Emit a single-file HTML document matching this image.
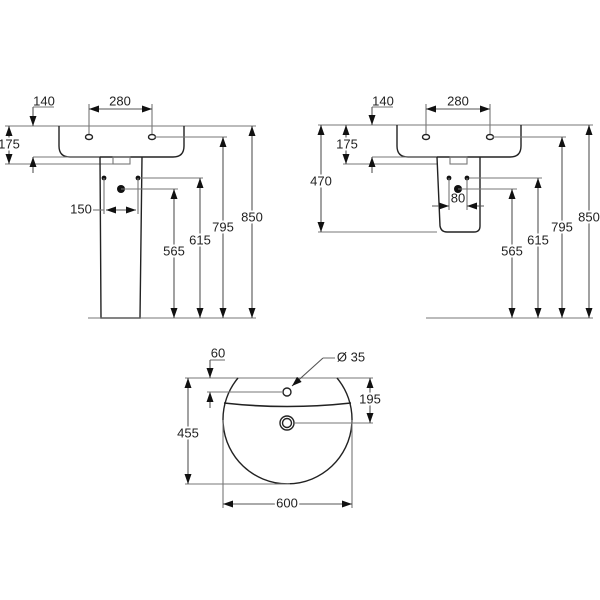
<!DOCTYPE html>
<html><head><meta charset="utf-8"><style>
html,body{margin:0;padding:0;background:#fff}
svg{display:block}
text{font-family:"Liberation Sans",Arial,sans-serif;font-size:13px;fill:#222;text-anchor:middle;dominant-baseline:middle}
.lb{stroke:#fff;stroke-width:4;paint-order:stroke}
.o{stroke:#222;stroke-width:1.4;fill:none}
.d{stroke:#777;stroke-width:1.1;fill:none}
.a{stroke:#555;stroke-width:1.1;fill:none;marker-start:url(#m);marker-end:url(#m)}
.e{stroke:#555;stroke-width:1.1;fill:none;marker-end:url(#m)}
</style></head><body>
<svg width="600" height="600" viewBox="0 0 600 600" xmlns="http://www.w3.org/2000/svg">
<defs>
<marker id="m" viewBox="0 0 10 6" refX="10" refY="3" markerWidth="10" markerHeight="7" markerUnits="userSpaceOnUse" orient="auto-start-reverse" preserveAspectRatio="none">
<path d="M0,0 L10,3 L0,6 z" fill="#111"/>
</marker>
</defs>

<!-- LEFT DRAWING -->
<line class="d" x1="5" y1="126" x2="256" y2="126"/>
<path class="o" d="M59,126 V146 Q59,157 70,157 H173 Q184,157 184,146 V126"/>
<line class="d" x1="5" y1="164" x2="130" y2="164"/>
<line class="d" x1="33" y1="157" x2="100" y2="157"/>
<path class="o" d="M100,157 L101,318 H140 L142,157"/>
<rect x="113" y="157" width="17" height="7" class="d"/>
<ellipse cx="89" cy="137" rx="3.5" ry="2.5" class="o" stroke-width="0.8"/>
<ellipse cx="152" cy="137" rx="3.5" ry="2.5" class="o" stroke-width="0.8"/>
<circle cx="104" cy="178" r="2.4" fill="#111"/>
<circle cx="138" cy="178" r="2.4" fill="#111"/>
<circle cx="121" cy="189" r="4" fill="#111"/>
<line class="d" x1="89" y1="104" x2="89" y2="134"/>
<line class="d" x1="152" y1="104" x2="152" y2="134"/>
<line class="a" x1="89" y1="109" x2="152" y2="109"/>
<text x="120" y="102">280</text>
<line class="d" x1="33" y1="107" x2="54" y2="107"/>
<text x="44" y="102">140</text>
<line class="e" x1="33" y1="107" x2="33" y2="126"/>
<line class="e" x1="33" y1="173" x2="33" y2="157"/>
<line class="a" x1="9" y1="126" x2="9" y2="164"/>
<text x="9" y="145" class="lb">175</text>
<line class="d" x1="104" y1="178" x2="104" y2="214"/>
<line class="d" x1="138" y1="178" x2="138" y2="214"/>
<line class="d" x1="93" y1="210" x2="104" y2="210"/>
<line class="a" x1="106" y1="210" x2="136" y2="210"/>
<text x="81" y="210">150</text>
<line class="d" x1="121" y1="189" x2="178" y2="189"/>
<line class="d" x1="140" y1="178" x2="203" y2="178"/>
<line class="d" x1="155" y1="137" x2="227" y2="137"/>
<line class="d" x1="88" y1="318" x2="256" y2="318"/>
<line class="a" x1="174" y1="189" x2="174" y2="318"/>
<line class="a" x1="200" y1="178" x2="200" y2="318"/>
<line class="a" x1="223" y1="137" x2="223" y2="318"/>
<line class="a" x1="252" y1="126" x2="252" y2="318"/>
<text x="174" y="252" class="lb">565</text>
<text x="200" y="241" class="lb">615</text>
<text x="223" y="228" class="lb">795</text>
<text x="252" y="218" class="lb">850</text>

<!-- RIGHT DRAWING -->
<line class="d" x1="318" y1="125" x2="593" y2="125"/>
<path class="o" d="M397,125 V146 Q397,157 408,157 H510 Q521,157 521,146 V125"/>
<line class="d" x1="343" y1="164" x2="437" y2="164"/>
<line class="d" x1="372" y1="157" x2="437" y2="157"/>
<path class="o" d="M437,157 L440,226 Q441,232 447,232 H474 Q480,232 480,226 V157"/>
<line class="d" x1="318" y1="232" x2="437" y2="232"/>
<rect x="450" y="157" width="17" height="7" class="d"/>
<ellipse cx="426" cy="137" rx="3.5" ry="2.5" class="o" stroke-width="0.8"/>
<ellipse cx="490" cy="137" rx="3.5" ry="2.5" class="o" stroke-width="0.8"/>
<circle cx="449" cy="178" r="2.4" fill="#111"/>
<circle cx="467" cy="178" r="2.4" fill="#111"/>
<circle cx="458" cy="189" r="4" fill="#111"/>
<line class="d" x1="426" y1="104" x2="426" y2="134"/>
<line class="d" x1="490" y1="104" x2="490" y2="134"/>
<line class="a" x1="426" y1="109" x2="490" y2="109"/>
<text x="458" y="102">280</text>
<line class="d" x1="372" y1="107" x2="393" y2="107"/>
<text x="383" y="102">140</text>
<line class="e" x1="372" y1="107" x2="372" y2="125"/>
<line class="e" x1="372" y1="173" x2="372" y2="157"/>
<line class="a" x1="346" y1="125" x2="346" y2="164"/>
<text x="347" y="145" class="lb">175</text>
<line class="a" x1="321" y1="125" x2="321" y2="232"/>
<text x="321" y="182" class="lb">470</text>
<line class="d" x1="449" y1="178" x2="449" y2="210"/>
<line class="d" x1="467" y1="178" x2="467" y2="210"/>
<line class="e" x1="432" y1="206" x2="449" y2="206"/>
<line class="e" x1="484" y1="206" x2="467" y2="206"/>
<text x="458" y="199">80</text>
<line class="d" x1="458" y1="189" x2="517" y2="189"/>
<line class="d" x1="469" y1="178" x2="542" y2="178"/>
<line class="d" x1="493" y1="137" x2="566" y2="137"/>
<line class="d" x1="426" y1="318" x2="593" y2="318"/>
<line class="a" x1="512" y1="189" x2="512" y2="318"/>
<line class="a" x1="538" y1="178" x2="538" y2="318"/>
<line class="a" x1="562" y1="137" x2="562" y2="318"/>
<line class="a" x1="589" y1="125" x2="589" y2="318"/>
<text x="512" y="252" class="lb">565</text>
<text x="538" y="241" class="lb">615</text>
<text x="562" y="228" class="lb">795</text>
<text x="589" y="218" class="lb">850</text>

<!-- BOTTOM DRAWING -->
<line class="d" x1="185" y1="378" x2="373" y2="378"/>
<path class="o" d="M238,378 A64.5,64.5 0 1 0 337,378"/>
<path d="M224,403 Q287,410 351,403" stroke="#222" stroke-width="1.6" fill="none"/>
<circle cx="287" cy="392" r="4" class="o" stroke-width="1"/>
<circle cx="287" cy="423" r="7" class="o" stroke-width="1.2"/>
<circle cx="287" cy="423" r="4.5" class="o" stroke-width="1"/>
<line class="d" x1="210" y1="360" x2="225" y2="360"/>
<text x="218" y="354">60</text>
<line class="e" x1="210" y1="360" x2="210" y2="378"/>
<line class="e" x1="210" y1="408" x2="210" y2="392"/>
<line class="d" x1="207" y1="392" x2="283" y2="392"/>
<line class="d" x1="323" y1="358" x2="335" y2="358"/>
<line class="e" x1="323" y1="358" x2="292" y2="386"/>
<text x="351" y="358">Ø 35</text>
<line class="d" x1="295" y1="423" x2="373" y2="423"/>
<line class="a" x1="370" y1="378" x2="370" y2="423"/>
<text x="370" y="400" class="lb">195</text>
<line class="d" x1="185" y1="484" x2="290" y2="484"/>
<line class="a" x1="188" y1="378" x2="188" y2="484"/>
<text x="188" y="434" class="lb">455</text>
<line class="d" x1="223" y1="420" x2="223" y2="508"/>
<line class="d" x1="352" y1="420" x2="352" y2="508"/>
<line class="a" x1="223" y1="504" x2="352" y2="504"/>
<text x="287" y="504" class="lb">600</text>
</svg>
</body></html>
